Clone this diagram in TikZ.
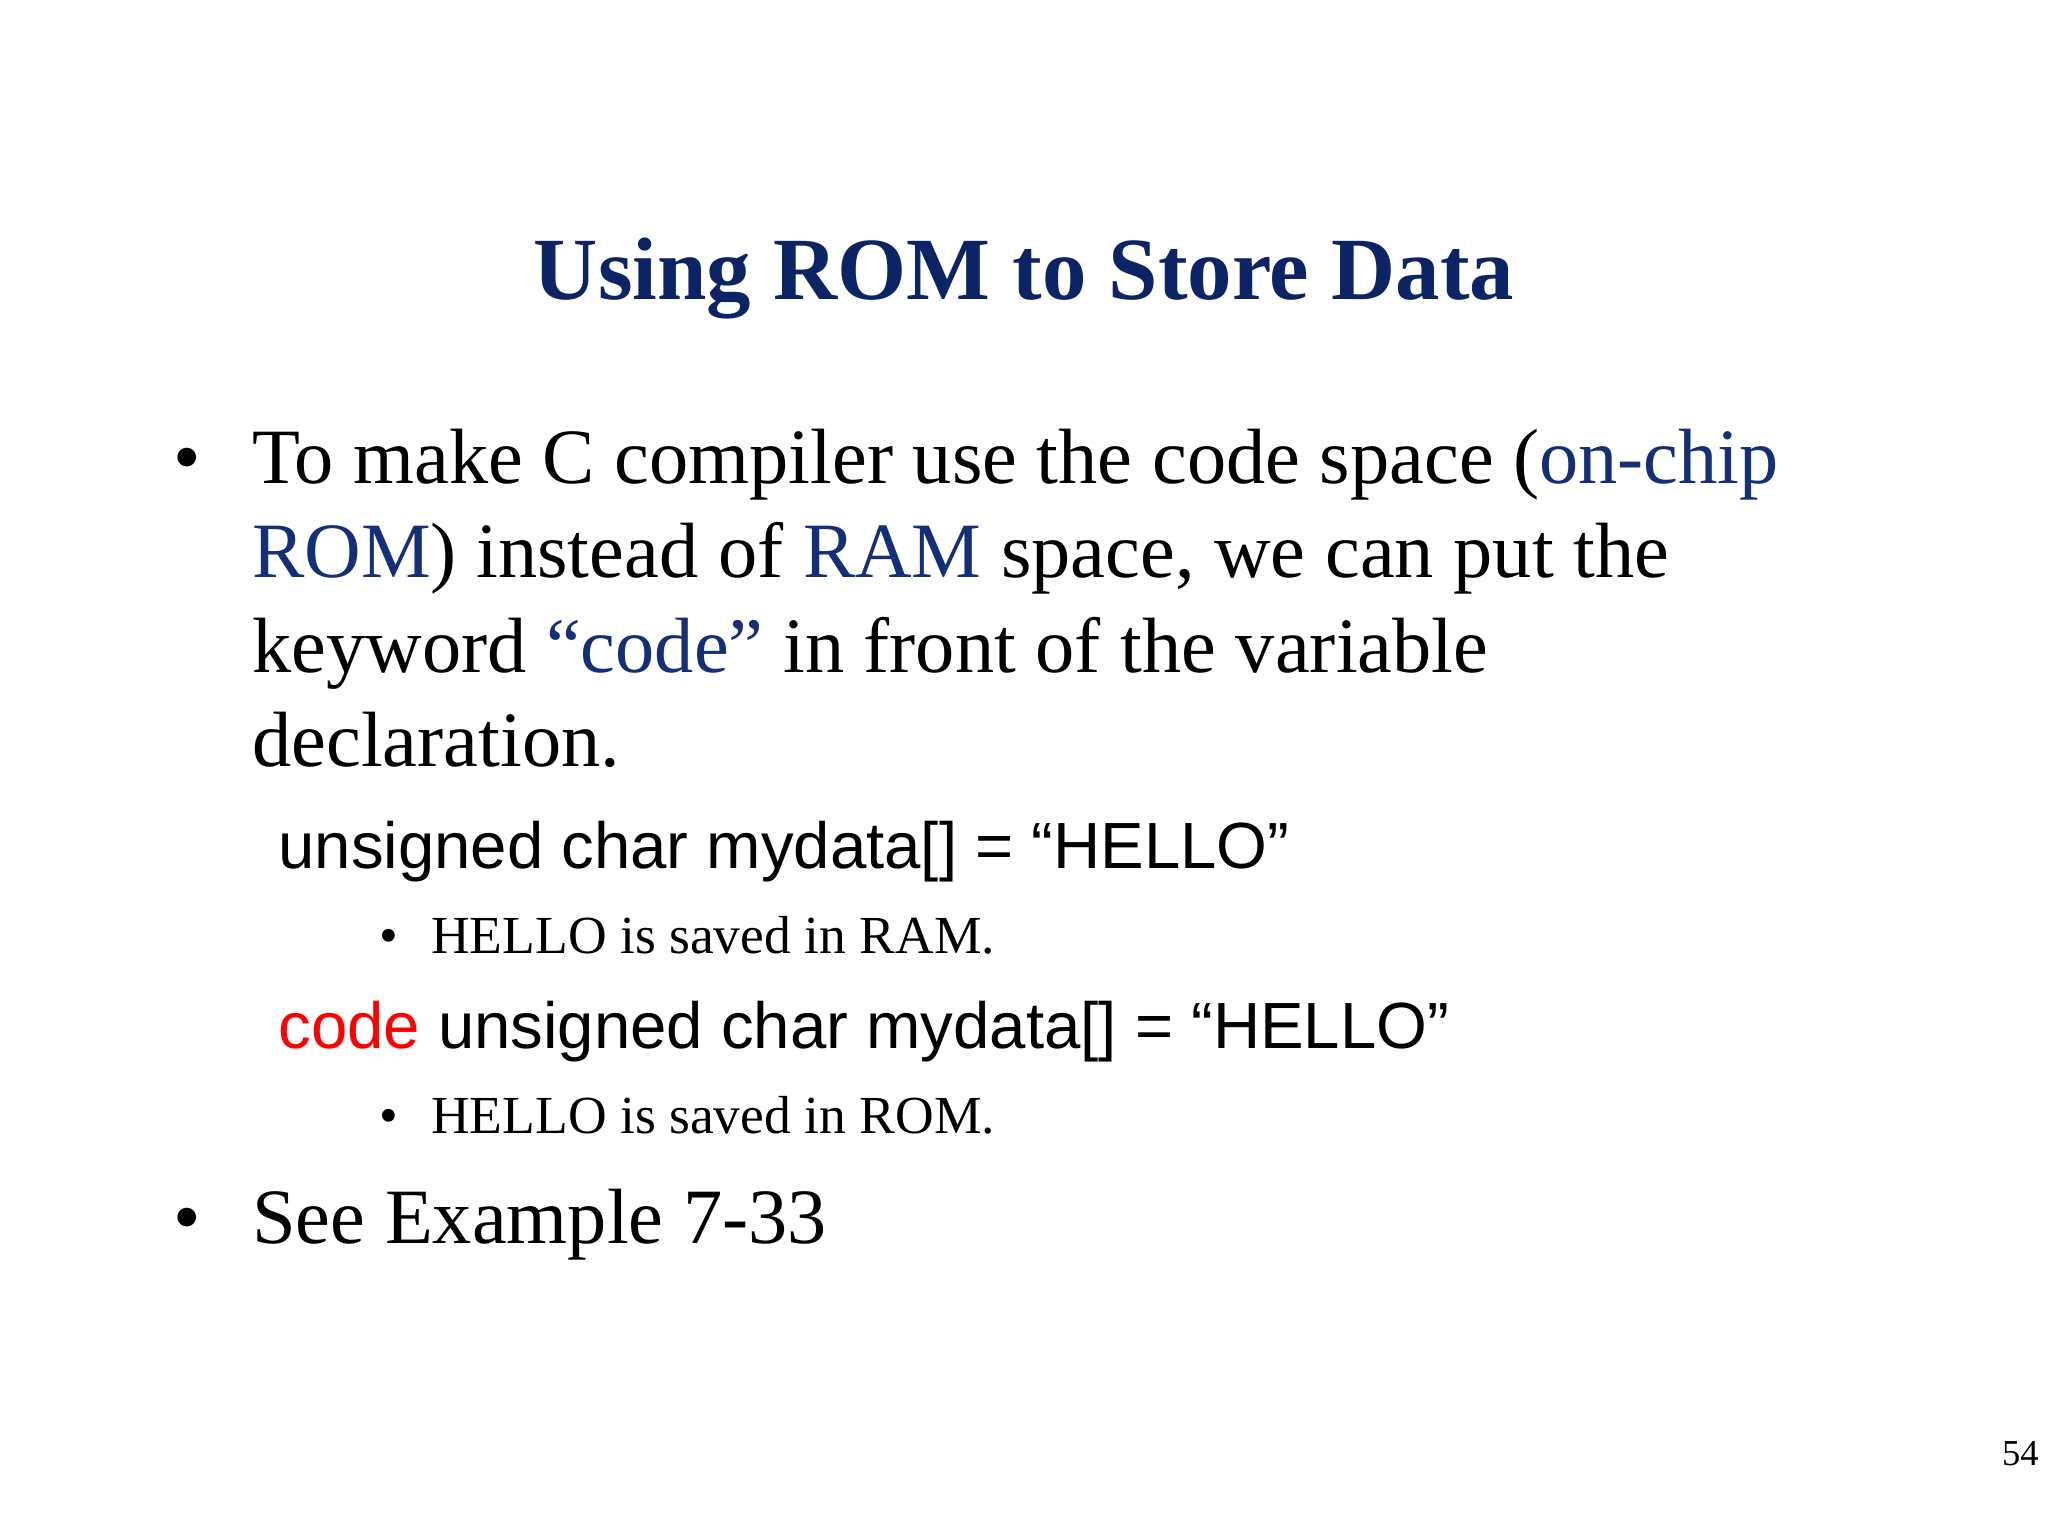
\documentclass[tikz,border=0pt]{standalone}
\usepackage{fontspec}
\setmainfont{Liberation Serif}
\newfontfamily\arialf{Liberation Sans}
\definecolor{navy}{RGB}{12,36,102}
\definecolor{bluet}{RGB}{20,46,120}
\tikzset{txt/.style={anchor=base west,inner sep=0pt,font=\fontsize{60}{72}\selectfont},
codet/.style={anchor=base west,inner sep=0pt,font=\arialf\fontsize{50}{60}\selectfont},
subt/.style={anchor=base west,inner sep=0pt,font=\fontsize{41}{48}\selectfont}}
\begin{document}
\begin{tikzpicture}[x=1pt,y=-1pt]
\useasboundingbox (0,0) rectangle (1568,1176);
\node[anchor=base,inner sep=0pt,font=\bfseries\fontsize{68}{80}\selectfont,text=navy] (title) at (784,229) {Using ROM to Store Data};
\node[txt] (b1) at (133,370) {•};
\node[txt] (l1) at (193,370) {To make C compiler use the code space (\textcolor{bluet}{on-chip}};
\node[txt] (l2) at (193,442) {\textcolor{bluet}{ROM}) instead of \textcolor{bluet}{RAM} space, we can put the};
\node[txt] (l3) at (193,515) {keyword \textcolor{bluet}{“code”} in front of the variable};
\node[txt] (l4) at (193,587) {declaration.};
\node[codet] (c1) at (213,665) {unsigned char mydata[] = “HELLO”};
\node[subt] (s1b) at (290,730) {•};
\node[subt] (s1) at (330,730) {HELLO is saved in RAM.};
\node[codet] (c2) at (213,803) {\textcolor{red}{code} unsigned char mydata[] = “HELLO”};
\node[subt] (s2b) at (290,868) {•};
\node[subt] (s2) at (330,868) {HELLO is saved in ROM.};
\node[txt] (b2) at (133,952) {•};
\node[txt] (l5) at (193,952) {See Example 7-33};
\node[anchor=base east,inner sep=0pt,font=\fontsize{28}{32}\selectfont] (pg) at (1561,1122) {54};
\end{tikzpicture}
\end{document}
